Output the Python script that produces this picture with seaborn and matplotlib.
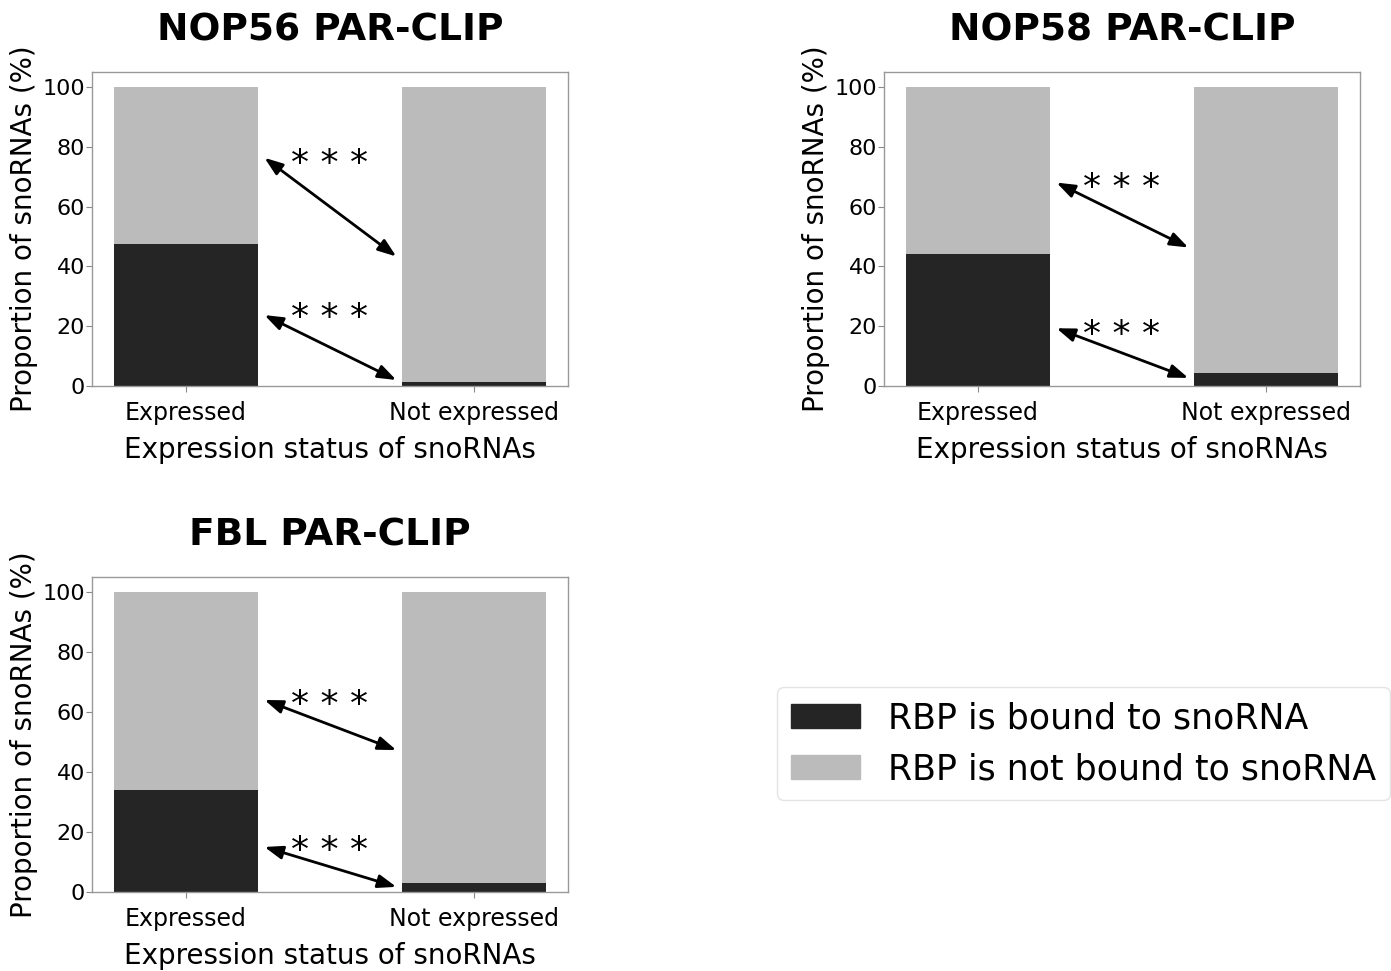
import matplotlib
matplotlib.use("Agg")
import matplotlib.pyplot as plt
import matplotlib.patches as mpatches
import seaborn as sns
import pandas as pd

# ---- data ----
categories = ["Expressed", "Not expressed"]
titles = ["NOP56 PAR-CLIP", "NOP58 PAR-CLIP", "FBL PAR-CLIP"]
bound_pct = [
    [47.5, 1.2],   # NOP56
    [44.1, 4.2],   # NOP58
    [34.0, 2.9],   # FBL
]
total_pct = [100, 100]
legend_labels = ["RBP is bound to snoRNA", "RBP is not bound to snoRNA"]
sig_label = "* * *"
# arrow annotations per panel: (y at Expressed side, y at Not expressed side, star y)
upper_arrows = [(76.3, 43.3, 77.0), (68.0, 46.3, 68.7), (64.0, 47.3, 65.0)]
lower_arrows = [(23.7, 2.0, 25.3), (19.3, 2.7, 19.8), (15.0, 1.7, 16.3)]

dark = "#252525"
light = "#bbbbbb"

sns.set_style("white")
plt.rcParams["font.family"] = ["DejaVu Sans"]
plt.rcParams["text.color"] = "black"
plt.rcParams["axes.labelcolor"] = "black"
plt.rcParams["xtick.color"] = "black"
plt.rcParams["ytick.color"] = "black"

fig = plt.figure(figsize=(13.91, 9.71), dpi=100)
positions = [
    [0.0661, 0.6025, 0.3422, 0.3234],
    [0.6355, 0.6025, 0.3422, 0.3234],
    [0.0661, 0.0814, 0.3422, 0.3244],
]

for i, pos in enumerate(positions):
    ax = fig.add_axes(pos)
    df = pd.DataFrame({"status": categories, "total": total_pct, "bound": bound_pct[i]})
    sns.barplot(data=df, x="status", y="total", color=light, width=0.5,
                edgecolor="none", saturation=1, ax=ax)
    sns.barplot(data=df, x="status", y="bound", color=dark, width=0.5,
                edgecolor="none", saturation=1, ax=ax)
    ax.set_xlim(-0.325, 1.325)
    ax.set_ylim(0, 105)
    ax.set_yticks([0, 20, 40, 60, 80, 100])
    ax.set_title(titles[i], fontsize=27, fontweight="bold", pad=23, color="black")
    ax.set_xlabel("Expression status of snoRNAs", fontsize=20, labelpad=8)
    ax.set_ylabel("Proportion of snoRNAs (%)", fontsize=20, labelpad=3)
    ax.tick_params(axis="x", labelsize=17, length=4, color="#888888", bottom=True,
                   pad=7, labelcolor="black")
    ax.tick_params(axis="y", labelsize=16, length=4, color="#888888", left=True,
                   pad=1, labelcolor="black")
    for sp in ax.spines.values():
        sp.set_color("#999999")
        sp.set_linewidth(1)
    for (y0, y1, ys) in (upper_arrows[i], lower_arrows[i]):
        ax.annotate("", xy=(0.73, y1), xytext=(0.273, y0),
                    arrowprops=dict(arrowstyle="<|-|>,head_length=0.55,head_width=0.2",
                                    color="black", lw=2, mutation_scale=20,
                                    shrinkA=0, shrinkB=0))
        ax.text(0.5, ys - 6, sig_label, fontsize=26, ha="center", va="baseline")

handles = [mpatches.Patch(color=dark), mpatches.Patch(color=light)]
fig.legend(handles, legend_labels, loc="center", bbox_to_anchor=(0.779, 0.234),
           fontsize=25, frameon=True, handlelength=2.0, handleheight=0.7,
           edgecolor="#dddddd", fancybox=True)

fig.savefig("out.png", dpi=100)
